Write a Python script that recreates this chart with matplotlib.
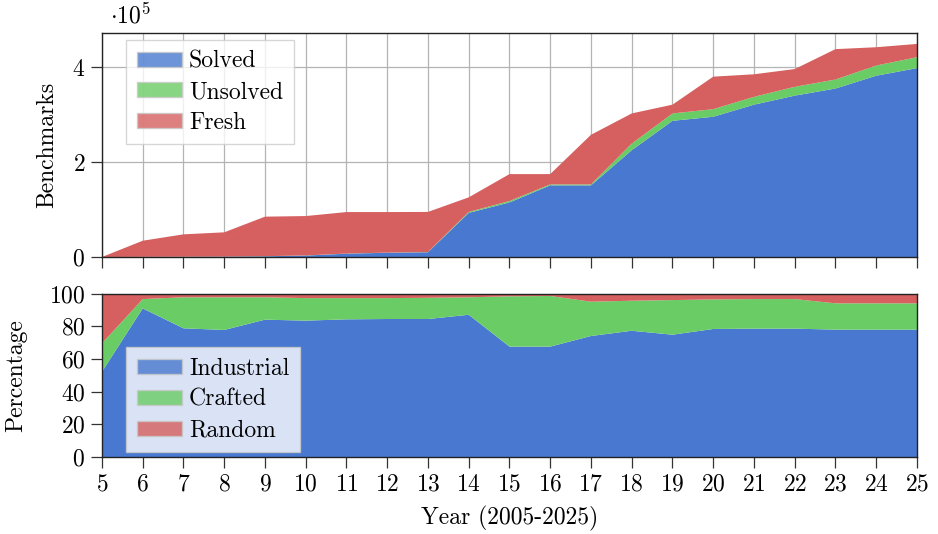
"""Stacked area charts of benchmark counts and family shares per competition year"""

import numpy as np
import matplotlib.pyplot as plt
from matplotlib.patches import Patch

plt.rcParams['font.family'] = 'cmr10'
plt.rcParams['mathtext.fontset'] = 'cm'
plt.rcParams['axes.formatter.use_mathtext'] = True
plt.rcParams['font.size'] = 17

# Years since 2000
years = list(range(5, 26))

# Benchmark counts per year
solved = [0, 300, 500, 800, 1500, 3000, 7000, 9000, 10000, 93000, 115000,
          151000, 151000, 225000, 287000, 295500, 321000, 340000, 355000,
          382000, 398000]
unsolved = [0, 100, 200, 200, 300, 300, 300, 300, 400, 2000, 3000, 2000,
            2000, 14000, 15500, 16000, 16500, 18600, 19000, 21500, 23000]
fresh = [0, 33900, 47100, 51000, 83200, 83000, 87400, 85400, 84600, 30700,
         56700, 21700, 104500, 63500, 18500, 68500, 47500, 37400, 64000,
         38500, 28000]

# Share of benchmark families (%)
industrial = [52.2, 91.0, 78.8, 77.8, 84.1, 83.5, 84.3, 84.5, 84.5, 87.1,
              67.6, 67.6, 74.1, 77.3, 74.9, 78.4, 78.6, 78.6, 78.0, 78.0, 78.0]
crafted = [17.4, 5.7, 19.0, 20.0, 13.7, 13.8, 13.0, 12.8, 13.0, 10.7, 30.8,
           31.0, 21.0, 18.4, 21.2, 18.1, 18.1, 18.1, 16.1, 16.1, 16.1]
random_ = [100 - i - c for i, c in zip(industrial, crafted)]

colors = ['#4878CF', '#6ACC65', '#D65F5F']

fig = plt.figure(figsize=(9.38, 5.34), dpi=100)
ax1 = fig.add_axes([0.1087, 0.5187, 0.8689, 0.4204])
ax2 = fig.add_axes([0.1087, 0.1442, 0.8689, 0.3058])

# Top: absolute numbers, scaled by 1e5
scale = 1e5
ax1.stackplot(years, np.array(solved) / scale, np.array(unsolved) / scale,
              np.array(fresh) / scale, colors=colors, linewidth=0, zorder=2)
ax1.set_xlim(5, 25)
ax1.set_ylim(0, 4.73)
ax1.set_yticks([0, 2, 4])
ax1.set_xticks(years)
ax1.tick_params(labelbottom=False)
ax1.grid(True, color='#b4b4b4', linewidth=0.9, zorder=0)
ax1.set_axisbelow(True)
ax1.set_ylabel('Benchmarks')
ax1.yaxis.set_label_coords(-0.054, 0.5)
ax1.text(0.01, 1.02, r'$\cdot 10^5$', transform=ax1.transAxes,
         ha='left', va='bottom', fontsize=17)

# Bottom: percentages
ax2.stackplot(years, industrial, crafted, random_, colors=colors,
              linewidth=0, zorder=2)
ax2.set_xlim(5, 25)
ax2.set_ylim(0, 100)
ax2.set_yticks(range(0, 101, 20))
ax2.set_xticks(years)
ax2.set_ylabel('Percentage')
ax2.yaxis.set_label_coords(-0.092, 0.5)
ax2.set_xlabel('Year (2005-2025)', labelpad=7)

for ax in (ax1, ax2):
    ax.tick_params(direction='out', length=8, width=0.9, color='#333333',
                   pad=4)
    for sp in ax.spines.values():
        sp.set_color('#222222')
        sp.set_linewidth(1.0)
        sp.set_zorder(3)


def handles(labels):
    return [Patch(facecolor=c, edgecolor='#c8c8c8', alpha=0.8, label=l)
            for c, l in zip(colors, labels)]


leg_kw = dict(fontsize=17, frameon=True, fancybox=False, framealpha=0.8,
              edgecolor='#cccccc', handlelength=1.9, handleheight=0.6,
              handletextpad=0.3, labelspacing=0.36, borderpad=0.45,
              borderaxespad=0)
leg1 = ax1.legend(handles=handles(['Solved', 'Unsolved', 'Fresh']),
                  loc='upper left', bbox_to_anchor=(0.03, 0.968), **leg_kw)
leg2 = ax2.legend(handles=handles(['Industrial', 'Crafted', 'Random']),
                  loc='lower left', bbox_to_anchor=(0.03, 0.03), **leg_kw)
for leg in (leg1, leg2):
    leg.set_zorder(5)

plt.savefig('out.png', dpi=100)
